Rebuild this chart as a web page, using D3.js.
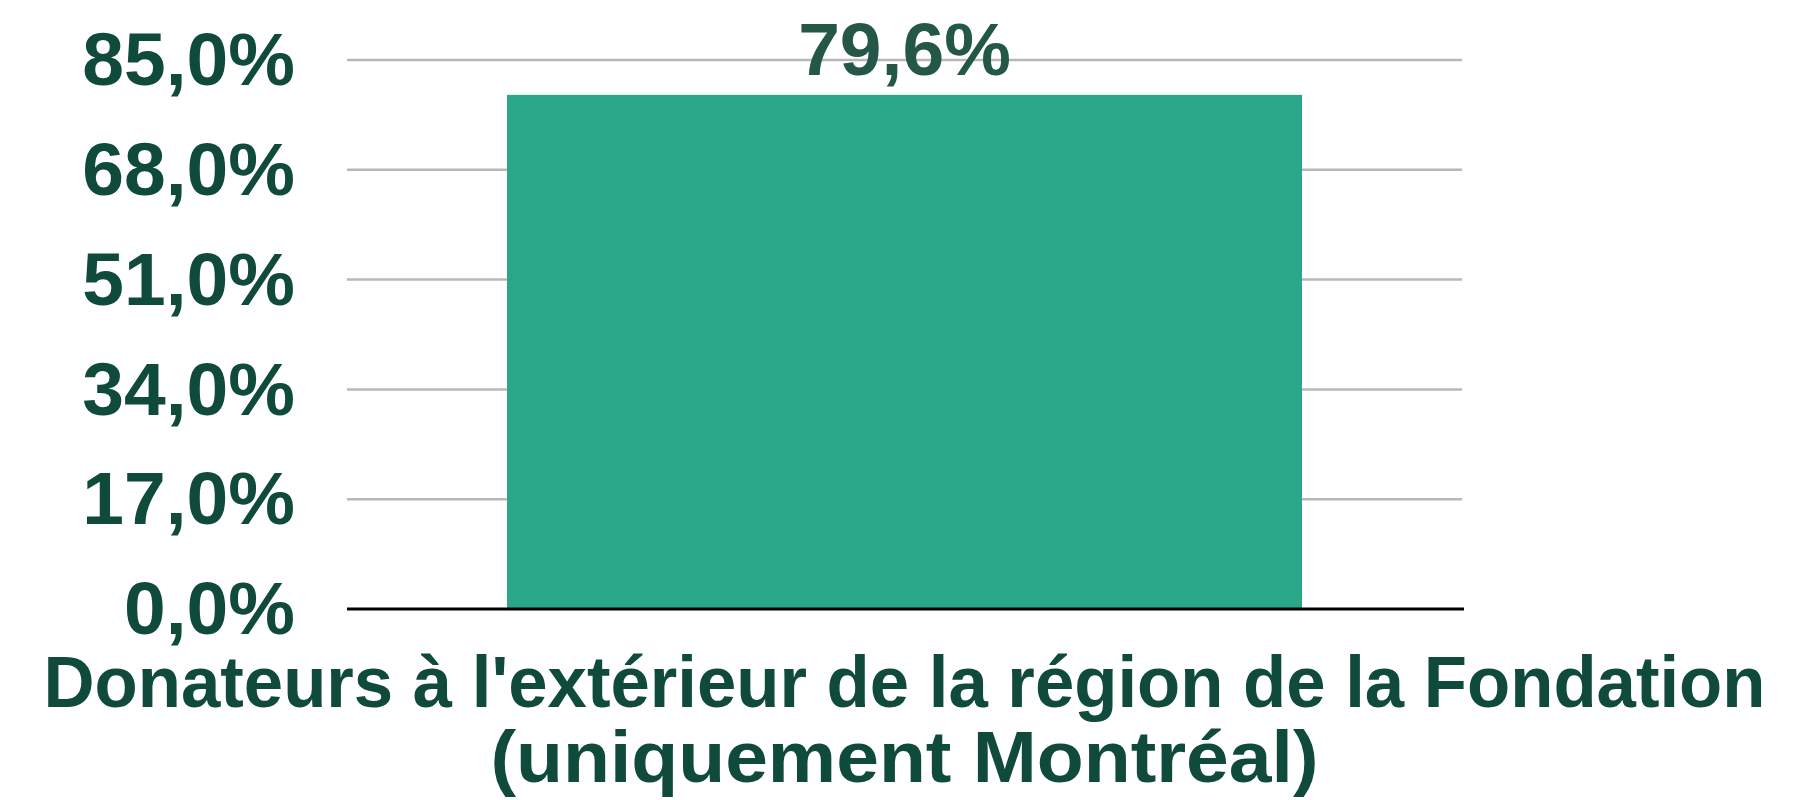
<!DOCTYPE html>
<html>
<head>
<meta charset="utf-8">
<script src="https://cdn.jsdelivr.net/npm/d3@7"></script>
<style>
  body { margin: 0; background: #fff; }
  svg { display: block; }
</style>
</head>
<body>
<script>
// data
var categories = ["Donateurs à l'extérieur de la région de la Fondation (uniquement Montréal)"];
var categoryLines = [["Donateurs à l'extérieur de la région de la Fondation", "(uniquement Montréal)"]];
var values = [79.6];
var yTicks = [0, 17, 34, 51, 68, 85];

var w = 1794, h = 800;
var margin = {top: 60, right: 332, bottom: 191, left: 347};
var innerW = w - margin.left - margin.right;
var innerH = h - margin.top - margin.bottom;

var textColor = "#0f4a3b";
var labelColor = "#245748";
var barColor = "#2aa689";
var font = "'Liberation Sans', Arial, sans-serif";

var fr = d3.formatLocale({decimal: ",", thousands: " ", grouping: [3], currency: ["", " $"]});
var fmt = fr.format(".1f");

var svg = d3.select("body").append("svg")
    .attr("width", w)
    .attr("height", h);

var g = svg.append("g")
    .attr("transform", "translate(" + margin.left + "," + margin.top + ")");

var x = d3.scaleBand()
    .domain(categories)
    .range([0, innerW])
    .paddingInner(0.287)
    .paddingOuter(0.1435);

var y = d3.scaleLinear()
    .domain([0, 85])
    .range([innerH, 0]);

// gridlines
g.append("g")
    .selectAll("line")
    .data(yTicks.filter(function(d) { return d > 0; }))
    .enter().append("line")
    .attr("x1", 0)
    .attr("x2", innerW)
    .attr("y1", function(d) { return y(d); })
    .attr("y2", function(d) { return y(d); })
    .attr("stroke", "#b8b8b8")
    .attr("stroke-width", 2.5);

// y axis labels
var yAxis = g.append("g")
    .call(d3.axisLeft(y).tickValues(yTicks).tickSize(0).tickPadding(52)
        .tickFormat(function(d) { return fmt(d) + "%"; }));
yAxis.select(".domain").remove();
yAxis.selectAll("text")
    .attr("fill", textColor)
    .attr("font-family", font)
    .attr("font-weight", "bold")
    .attr("font-size", 75)
    .attr("dy", "0.33em");

// bars
g.selectAll("rect.bar")
    .data(values)
    .enter().append("rect")
    .attr("class", "bar")
    .attr("x", function(d, i) { return x(categories[i]); })
    .attr("width", x.bandwidth())
    .attr("y", function(d) { return y(d); })
    .attr("height", function(d) { return innerH - y(d); })
    .attr("fill", barColor);

// value labels
g.selectAll("text.val")
    .data(values)
    .enter().append("text")
    .attr("class", "val")
    .attr("x", function(d, i) { return x(categories[i]) + x.bandwidth() / 2; })
    .attr("y", function(d) { return y(d) - 20; })
    .attr("text-anchor", "middle")
    .attr("fill", labelColor)
    .attr("font-family", font)
    .attr("font-weight", "bold")
    .attr("font-size", 75)
    .text(function(d) { return fmt(d) + "%"; });

// baseline axis
g.append("line")
    .attr("x1", 0)
    .attr("x2", innerW + 2)
    .attr("y1", innerH)
    .attr("y2", innerH)
    .attr("stroke", "#000")
    .attr("stroke-width", 3);

// category label (two lines, tight like the original font)
var lineWidths = [1722, 828];
var cat = g.append("text")
    .attr("text-anchor", "middle")
    .attr("fill", textColor)
    .attr("font-family", font)
    .attr("font-weight", "bold")
    .attr("font-size", 73);
categoryLines[0].forEach(function(t, i) {
    cat.append("tspan")
        .attr("x", x(categories[0]) + x.bandwidth() / 2)
        .attr("y", innerH + 98 + i * 75)
        .attr("textLength", lineWidths[i])
        .attr("lengthAdjust", "spacingAndGlyphs")
        .text(t);
});
</script>
</body>
</html>
